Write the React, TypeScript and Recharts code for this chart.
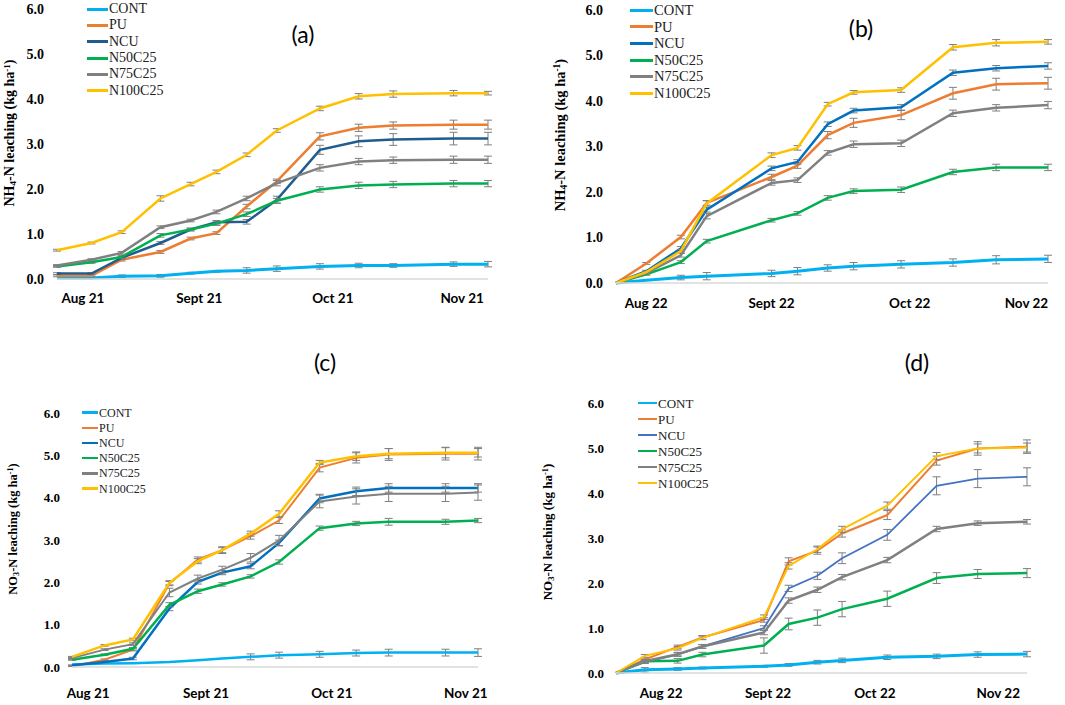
import React from 'react';
import { LineChart, Line, XAxis, YAxis, ErrorBar } from 'recharts';

// sampling days (0 = first sampling) and month tick labels
const days21 = [0, 8, 15, 24, 31, 37, 44, 51, 61, 70, 78, 92, 100];
const days22 = [0, 7, 15, 21, 36, 42, 49, 55, 66, 78, 88, 100];
const yTicks = [0, 1, 2, 3, 4, 5, 6];
const months21 = ['Aug 21', 'Sept 21', 'Oct 21', 'Nov 21'];
const months22 = ['Aug 22', 'Sept 22', 'Oct 22', 'Nov 22'];
const ticksA = [6, 33, 64, 94];
const ticksB = [7, 36, 68, 95];
const ticksC = [4, 33, 64, 97];
const ticksD = [11, 37, 63, 93];

const names = ['CONT', 'PU', 'NCU', 'N50C25', 'N75C25', 'N100C25'];

// (a) NH4-N 2021
const aCONT = [0.02, 0.02, 0.06, 0.07, 0.13, 0.17, 0.19, 0.23, 0.28, 0.3, 0.3, 0.33, 0.33];
const aPU = [0.07, 0.07, 0.43, 0.6, 0.9, 1.02, 1.61, 2.17, 3.17, 3.36, 3.41, 3.43, 3.43];
const aNCU = [0.12, 0.12, 0.47, 0.8, 1.1, 1.26, 1.27, 1.76, 2.87, 3.06, 3.1, 3.12, 3.12];
const aN50 = [0.28, 0.37, 0.49, 0.97, 1.1, 1.23, 1.44, 1.74, 1.99, 2.08, 2.1, 2.12, 2.12];
const aN75 = [0.3, 0.43, 0.58, 1.15, 1.3, 1.49, 1.79, 2.13, 2.47, 2.61, 2.64, 2.65, 2.65];
const aN100 = [0.64, 0.8, 1.04, 1.79, 2.11, 2.38, 2.76, 3.3, 3.79, 4.06, 4.11, 4.13, 4.13];
const aCONTe = [0, 0, 0.03, 0.03, 0.02, 0.02, 0.06, 0.06, 0.06, 0.05, 0.04, 0.05, 0.06];
const aPUe = [0.02, 0.02, 0.03, 0.03, 0.03, 0.03, 0.05, 0.05, 0.08, 0.08, 0.08, 0.1, 0.1];
const aNCUe = [0.02, 0.02, 0.03, 0.03, 0.03, 0.04, 0.05, 0.08, 0.1, 0.12, 0.13, 0.14, 0.14];
const aN50e = [0.02, 0.02, 0.03, 0.04, 0.03, 0.04, 0.05, 0.05, 0.06, 0.07, 0.07, 0.07, 0.07];
const aN75e = [0.02, 0.02, 0.03, 0.03, 0.03, 0.04, 0.05, 0.06, 0.07, 0.07, 0.07, 0.08, 0.08];
const aN100e = [0.02, 0.02, 0.03, 0.06, 0.04, 0.04, 0.04, 0.04, 0.05, 0.06, 0.07, 0.06, 0.04];

// (b) NH4-N 2022
const bCONT = [0, 0.06, 0.12, 0.15, 0.21, 0.26, 0.33, 0.37, 0.41, 0.45, 0.51, 0.53];
const bPU = [0, 0.43, 1.01, 1.76, 2.33, 2.58, 3.25, 3.52, 3.69, 4.17, 4.37, 4.39];
const bNCU = [0, 0.26, 0.76, 1.61, 2.52, 2.66, 3.49, 3.79, 3.86, 4.62, 4.72, 4.77];
const bN50 = [0, 0.19, 0.46, 0.92, 1.38, 1.53, 1.87, 2.02, 2.05, 2.44, 2.54, 2.54];
const bN75 = [0, 0.22, 0.61, 1.47, 2.2, 2.26, 2.86, 3.05, 3.07, 3.73, 3.85, 3.91];
const bN100 = [0, 0.24, 0.7, 1.75, 2.81, 2.97, 3.93, 4.19, 4.24, 5.18, 5.28, 5.3];
const bCONTe = [0, 0, 0.05, 0.08, 0.07, 0.08, 0.07, 0.08, 0.08, 0.08, 0.09, 0.08];
const bPUe = [0, 0.02, 0.04, 0.05, 0.06, 0.06, 0.08, 0.1, 0.1, 0.13, 0.13, 0.13];
const bNCUe = [0, 0.02, 0.04, 0.05, 0.05, 0.05, 0.05, 0.05, 0.06, 0.06, 0.06, 0.07];
const bN50e = [0, 0.02, 0.03, 0.04, 0.04, 0.04, 0.05, 0.05, 0.06, 0.06, 0.07, 0.07];
const bN75e = [0, 0.02, 0.04, 0.06, 0.05, 0.05, 0.05, 0.07, 0.07, 0.07, 0.07, 0.08];
const bN100e = [0, 0.02, 0.04, 0.06, 0.05, 0.05, 0.04, 0.04, 0.05, 0.06, 0.07, 0.05];

// (c) NO3-N 2021
const cCONT = [0.06, 0.08, 0.09, 0.12, 0.16, 0.2, 0.24, 0.28, 0.3, 0.33, 0.34, 0.34, 0.34];
const cPU = [0.02, 0.17, 0.41, 1.97, 2.54, 2.76, 3.09, 3.46, 4.71, 4.94, 5.02, 5.04, 5.04];
const cNCU = [0.04, 0.12, 0.2, 1.38, 2.01, 2.23, 2.38, 2.93, 3.98, 4.15, 4.23, 4.23, 4.23];
const cN50 = [0.17, 0.29, 0.43, 1.47, 1.79, 1.95, 2.14, 2.48, 3.28, 3.39, 3.43, 3.43, 3.46];
const cN75 = [0.21, 0.41, 0.54, 1.76, 2.09, 2.3, 2.58, 2.99, 3.91, 4.03, 4.09, 4.09, 4.12];
const cN100 = [0.24, 0.51, 0.65, 1.99, 2.5, 2.76, 3.15, 3.62, 4.83, 4.98, 5.04, 5.06, 5.06];
const cCONTe = [0, 0, 0, 0, 0, 0, 0.07, 0.07, 0.07, 0.07, 0.08, 0.08, 0.09];
const cPUe = [0.01, 0.02, 0.03, 0.05, 0.06, 0.06, 0.07, 0.07, 0.1, 0.12, 0.14, 0.15, 0.15];
const cNCUe = [0.01, 0.02, 0.03, 0.05, 0.05, 0.05, 0.06, 0.07, 0.1, 0.1, 0.1, 0.1, 0.1];
const cN50e = [0.01, 0.02, 0.03, 0.05, 0.05, 0.04, 0.04, 0.05, 0.05, 0.05, 0.08, 0.06, 0.05];
const cN75e = [0.01, 0.02, 0.03, 0.1, 0.08, 0.08, 0.1, 0.12, 0.15, 0.18, 0.18, 0.18, 0.18];
const cN100e = [0.01, 0.02, 0.03, 0.05, 0.06, 0.08, 0.06, 0.07, 0.05, 0.1, 0.12, 0.12, 0.1];

// (d) NO3-N 2022
const dCONT = [0, 0.07, 0.09, 0.11, 0.15, 0.18, 0.24, 0.28, 0.35, 0.37, 0.41, 0.42];
const dPU = [0, 0.3, 0.58, 0.79, 1.18, 2.48, 2.72, 3.1, 3.51, 4.72, 4.99, 5.03];
const dNCU = [0, 0.24, 0.41, 0.59, 1.0, 1.88, 2.16, 2.55, 3.07, 4.16, 4.32, 4.36];
const dN50 = [0, 0.26, 0.27, 0.41, 0.61, 1.09, 1.23, 1.42, 1.65, 2.11, 2.2, 2.22];
const dN75 = [0, 0.26, 0.42, 0.59, 0.9, 1.61, 1.85, 2.13, 2.51, 3.2, 3.33, 3.36];
const dN100 = [0, 0.38, 0.55, 0.78, 1.24, 2.38, 2.75, 3.19, 3.72, 4.82, 4.99, 5.01];
const dCONTe = [0, 0.05, 0.03, 0.02, 0.02, 0.03, 0.04, 0.05, 0.05, 0.05, 0.06, 0.06];
const dPUe = [0, 0.03, 0.04, 0.04, 0.05, 0.08, 0.08, 0.08, 0.1, 0.1, 0.15, 0.15];
const dNCUe = [0, 0.03, 0.04, 0.04, 0.05, 0.07, 0.08, 0.12, 0.12, 0.2, 0.2, 0.2];
const dN50e = [0, 0.04, 0.05, 0.05, 0.17, 0.13, 0.17, 0.17, 0.17, 0.12, 0.1, 0.1];
const dN75e = [0, 0.03, 0.04, 0.04, 0.05, 0.06, 0.06, 0.06, 0.06, 0.06, 0.05, 0.05];
const dN100e = [0, 0.03, 0.04, 0.04, 0.05, 0.07, 0.07, 0.07, 0.08, 0.08, 0.1, 0.1];

const CYAN = '#00b0f0';
const ORANGE = '#ed7d31';
const GREEN = '#00b050';
const GRAY = '#808080';
const GOLD = '#ffc000';

const serif = 'Liberation Serif';
const sans = 'Lato';

function buildRows(days: number[], vals: number[][], errs: number[][]) {
  return days.map((d, i) => {
    const row: any = { day: d };
    names.forEach((n, k) => {
      row[n] = vals[k][i];
      row[n + '_e'] = errs[k][i];
    });
    return row;
  });
}

type PanelProps = {
  left: number;
  top: number;
  width: number;
  height: number;
  margin: { top: number; right: number; bottom: number; left: number };
  yWidth: number;
  yGap: number;
  xGap: number;
  axisH: number;
  days: number[];
  ticks: number[];
  labels: string[];
  vals: number[][];
  errs: number[][];
  colors: string[];
  widths: number[];
  tickFont: number;
  legendLeft: number;
  legendTop: number;
  legendRow: number;
  legendFont: number;
  legendLine: number;
  legendThick: number;
  tag: string;
  tagX: number;
  tagY: number;
  yTitle: React.ReactNode;
  titleX: number;
  titleY: number;
  titleFont: number;
};

function Panel(p: PanelProps) {
  const rows = buildRows(p.days, p.vals, p.errs);

  const XTick = (props: any) => {
    const { x, y, payload } = props;
    const i = p.ticks.indexOf(payload.value);
    return (
      <text x={x} y={y} dy="0.71em" textAnchor="middle" fill="#000" fontFamily={sans} fontWeight={700} fontSize={13.5}>
        {p.labels[i]}
      </text>
    );
  };

  const YTick = (props: any) => {
    const { x, y, payload } = props;
    return (
      <text x={x} y={y} dy="0.35em" textAnchor="end" fill="#000" fontFamily={serif} fontWeight={700} fontSize={p.tickFont}>
        {Number(payload.value).toFixed(1)}
      </text>
    );
  };

  return (
    <div style={{ position: 'absolute', left: p.left, top: p.top, width: p.width, height: p.height }}>
      <LineChart width={p.width} height={p.height} data={rows} margin={p.margin}>
        <XAxis
          dataKey="day"
          type="number"
          domain={[0, 100]}
          ticks={p.ticks}
          tickLine={false}
          tickSize={0}
          tickMargin={p.xGap}
          height={p.axisH}
          axisLine={{ stroke: '#d9d9d9', strokeWidth: 1.5 }}
          tick={<XTick />}
          interval={0}
        />
        <YAxis
          type="number"
          domain={[0, 6]}
          ticks={yTicks}
          width={p.yWidth}
          tickLine={false}
          axisLine={false}
          tickSize={0}
          tickMargin={p.yGap}
          tick={<YTick />}
          interval={0}
        />
        {names.map((n, k) => (
          <Line
            key={n}
            type="linear"
            dataKey={n}
            stroke={p.colors[k]}
            strokeWidth={p.widths[k]}
            dot={false}
            activeDot={false}
            isAnimationActive={false}
          >
            <ErrorBar dataKey={n + '_e'} width={4} strokeWidth={1} stroke="#7f7f7f" direction="y" />
          </Line>
        ))}
      </LineChart>
      <div
        style={{
          position: 'absolute',
          left: p.legendLeft,
          top: p.legendTop,
          fontFamily: serif,
          fontSize: p.legendFont,
          color: '#222',
        }}
      >
        {names.map((n, k) => (
          <div key={n} style={{ display: 'flex', alignItems: 'center', height: p.legendRow, lineHeight: 1 }}>
            <span
              style={{
                display: 'inline-block',
                width: p.legendLine,
                height: p.legendThick,
                background: p.colors[k],
                marginRight: 1,
              }}
            />
            <span>{n}</span>
          </div>
        ))}
      </div>
      <div
        style={{
          position: 'absolute',
          left: p.tagX - p.left,
          top: p.tagY - p.top,
          transform: 'translate(-50%, -50%)',
          fontFamily: sans,
          fontSize: 23,
          color: '#000',
        }}
      >
        {p.tag}
      </div>
      <div
        style={{
          position: 'absolute',
          left: p.titleX - p.left,
          top: p.titleY - p.top,
          transform: 'translate(-50%, -50%) rotate(-90deg)',
          whiteSpace: 'nowrap',
          fontFamily: serif,
          fontWeight: 700,
          fontSize: p.titleFont,
          color: '#000',
        }}
      >
        {p.yTitle}
      </div>
    </div>
  );
}

const subStyle: React.CSSProperties = { fontSize: '0.65em', verticalAlign: '-0.25em', lineHeight: 0 };
const supStyle: React.CSSProperties = { fontSize: '0.65em', verticalAlign: '0.45em', lineHeight: 0 };

const nhTitle = (
  <span>
    NH<span style={subStyle}>4</span>-N leaching (kg ha<span style={supStyle}>-1</span>)
  </span>
);
const noTitle = (
  <span>
    NO<span style={subStyle}>3</span>-N leaching (kg ha<span style={supStyle}>-1</span>)
  </span>
);

export default function App() {
  return (
    <div style={{ position: 'absolute', left: 0, top: 0, width: 1065, height: 705, background: '#fff', overflow: 'hidden' }}>
      <Panel
        left={0}
        top={0}
        width={500}
        height={320}
        margin={{ top: 9, right: 12, bottom: 11, left: 0 }}
        yWidth={57}
        yGap={13}
        xGap={14}
        axisH={30}
        days={days21}
        ticks={ticksA}
        labels={months21}
        vals={[aCONT, aPU, aNCU, aN50, aN75, aN100]}
        errs={[aCONTe, aPUe, aNCUe, aN50e, aN75e, aN100e]}
        colors={[CYAN, ORANGE, '#1f5c8f', GREEN, GRAY, GOLD]}
        widths={[3, 2.5, 2.5, 2.5, 2.5, 2.5]}
        tickFont={14}
        legendLeft={87}
        legendTop={1}
        legendRow={16.3}
        legendFont={14}
        legendLine={21}
        legendThick={3}
        tag="(a)"
        tagX={303}
        tagY={34}
        yTitle={nhTitle}
        titleX={10}
        titleY={133}
        titleFont={14}
      />
      <Panel
        left={550}
        top={0}
        width={510}
        height={330}
        margin={{ top: 10, right: 12, bottom: 12, left: 0 }}
        yWidth={66}
        yGap={13}
        xGap={15}
        axisH={35}
        days={days22}
        ticks={ticksB}
        labels={months22}
        vals={[bCONT, bPU, bNCU, bN50, bN75, bN100]}
        errs={[bCONTe, bPUe, bNCUe, bN50e, bN75e, bN100e]}
        colors={[CYAN, ORANGE, '#0070c0', GREEN, GRAY, GOLD]}
        widths={[3, 2.5, 2.5, 2.5, 2.5, 2.5]}
        tickFont={14}
        legendLeft={80}
        legendTop={2}
        legendRow={16.6}
        legendFont={14.5}
        legendLine={23}
        legendThick={3}
        tag="(b)"
        tagX={861}
        tagY={28}
        yTitle={nhTitle}
        titleX={560}
        titleY={135}
        titleFont={14.5}
      />
      <Panel
        left={0}
        top={360}
        width={490}
        height={345}
        margin={{ top: 53, right: 12, bottom: 10, left: 0 }}
        yWidth={72}
        yGap={12}
        xGap={21}
        axisH={28}
        days={days21}
        ticks={ticksC}
        labels={months21}
        vals={[cCONT, cPU, cNCU, cN50, cN75, cN100]}
        errs={[cCONTe, cPUe, cNCUe, cN50e, cN75e, cN100e]}
        colors={[CYAN, ORANGE, '#0070c0', GREEN, GRAY, GOLD]}
        widths={[2.5, 2, 2.5, 2.5, 2, 2.5]}
        tickFont={13}
        legendLeft={82}
        legendTop={45}
        legendRow={15.2}
        legendFont={12}
        legendLine={16}
        legendThick={2.5}
        tag="(c)"
        tagX={325}
        tagY={362}
        yTitle={noTitle}
        titleX={13}
        titleY={529}
        titleFont={12.5}
      />
      <Panel
        left={550}
        top={360}
        width={490}
        height={345}
        margin={{ top: 43, right: 13, bottom: 4, left: 0 }}
        yWidth={66}
        yGap={12}
        xGap={15}
        axisH={28}
        days={days22}
        ticks={ticksD}
        labels={months22}
        vals={[dCONT, dPU, dNCU, dN50, dN75, dN100]}
        errs={[dCONTe, dPUe, dNCUe, dN50e, dN75e, dN100e]}
        colors={[CYAN, ORANGE, '#4472c4', GREEN, GRAY, GOLD]}
        widths={[3, 2, 1.8, 2.5, 2.5, 2]}
        tickFont={13}
        legendLeft={88}
        legendTop={35}
        legendRow={16}
        legendFont={13}
        legendLine={19}
        legendThick={2.5}
        tag="(d)"
        tagX={917}
        tagY={362}
        yTitle={noTitle}
        titleX={548}
        titleY={532}
        titleFont={13}
      />
    </div>
  );
}
